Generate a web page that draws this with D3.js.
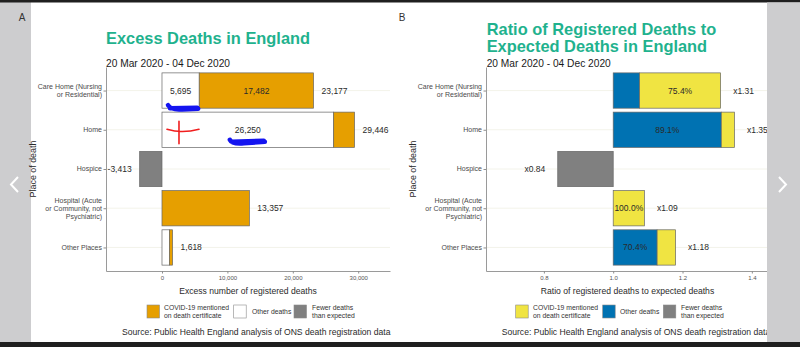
<!DOCTYPE html>
<html>
<head>
<meta charset="utf-8">
<script src="https://cdn.jsdelivr.net/npm/d3@7"></script>
<style>
  html, body { margin: 0; padding: 0; background: #fff; }
  svg { display: block; font-family: "Liberation Sans", Arial, Helvetica, sans-serif; }
</style>
</head>
<body>
<svg id="chart" width="800" height="347"></svg>
<script>
// ---- data: registered deaths vs expected, England, 20 Mar - 04 Dec 2020 ----
const places = ["Care Home", "Home", "Hospice", "Hospital", "Other Places"];
const placeLabels = [
  ["Care Home (Nursing", "or Residential)"],
  ["Home"],
  ["Hospice"],
  ["Hospital (Acute", "or Community, not", "Psychiatric)"],
  ["Other Places"]
];
const covidExcess = [17482, 3196, 0, 13357, 479];   // COVID-19 on certificate
const otherExcess = [5695, 26250, 0, 0, 1139];      // other excess deaths
const fewerDeaths = [0, 0, -3413, 0, 0];            // deficit vs expected
const totalExcess = [23177, 29446, -3413, 13357, 1618];
const deathRatio = [1.31, 1.35, 0.84, 1.09, 1.18];  // registered / expected
const covidSharePct = [75.4, 10.9, 0, 100.0, 29.6];
const otherSharePct = [24.6, 89.1, 0, 0.0, 70.4];
const excessTicks = [0, 10000, 20000, 30000];
const ratioTicks = [0.8, 1.0, 1.2, 1.4];

const fmt = d3.formatLocale({decimal: ".", thousands: ",", grouping: [3], currency: ["", ""], minus: "-"});
const fmtInt = fmt.format(",");

const C = {
  orange: "#E69F00", yellow: "#F0E442", blue: "#0072B2",
  white: "#FFFFFF", grey: "#808080", title: "#1FB28E",
  grid: "#f0f0e4", axis: "#8e8e8e", stroke: "#666666"
};

const svg = d3.select("#chart");
svg.append("rect").attr("width", 800).attr("height", 347).attr("fill", "#fff");

// ---------- surrounding viewer frame ----------
svg.append("rect").attr("x", 0).attr("y", 0).attr("width", 31).attr("height", 347).attr("fill", "#cdcdcf");
svg.append("rect").attr("x", 0).attr("y", 0).attr("width", 800).attr("height", 2.5).attr("fill", "#1f1f1f");
svg.append("rect").attr("x", 0).attr("y", 342).attr("width", 800).attr("height", 5).attr("fill", "#1f1f1f");
svg.append("path").attr("d", "M18,177 L11,184.5 L18,192").attr("fill", "none").attr("stroke", "#fff").attr("stroke-width", 2);
svg.append("text").attr("x", 22).attr("y", 21).attr("text-anchor", "middle").attr("font-size", 10).attr("fill", "#333").text("A");
svg.append("text").attr("x", 402).attr("y", 21).attr("text-anchor", "middle").attr("font-size", 10).attr("fill", "#333").text("B");

function drawPanel(o) {
  const g = svg.append("g");
  const x = d3.scaleLinear().domain(o.domain).range([o.left, o.right]);
  const y = d3.scalePoint().domain(places).range([67, 271]).padding(0.6);
  const bh = y.step() * 0.9;

  // title + subtitle
  o.title.forEach((t, i) => {
    g.append("text").attr("x", o.left + o.titleDx).attr("y", o.titleY + i * 17)
      .attr("font-size", 16.4).attr("font-weight", "bold").attr("fill", C.title).text(t);
  });
  g.append("text").attr("x", o.left + o.titleDx).attr("y", 66.5)
    .attr("font-size", 10.2).attr("fill", "#1a1a1a").text("20 Mar 2020 - 04 Dec 2020");

  // horizontal grid at each place
  g.selectAll("line.grid").data(places).join("line")
    .attr("x1", o.left).attr("x2", o.right)
    .attr("y1", d => y(d)).attr("y2", d => y(d))
    .attr("stroke", C.grid).attr("stroke-width", 0.8);

  // bars
  g.selectAll("rect.seg").data(o.segments).join("rect")
    .attr("x", d => x(Math.min(d.x0, d.x1)))
    .attr("width", d => Math.abs(x(d.x1) - x(d.x0)))
    .attr("y", d => y(d.place) - bh / 2).attr("height", bh)
    .attr("fill", d => d.fill).attr("stroke", C.stroke).attr("stroke-width", 0.7);

  // labels inside bars
  g.selectAll("text.inner").data(o.segments.filter(d => d.label)).join("text")
    .attr("x", d => (x(d.x0) + x(d.x1)) / 2).attr("y", d => y(d.place))
    .attr("dy", "0.35em").attr("text-anchor", "middle")
    .attr("font-size", 8.5).attr("fill", "#2a2a2a").text(d => d.label);

  // end labels
  g.selectAll("text.end").data(o.ends).join("text")
    .attr("x", d => d.v >= o.base ? x(d.v) + o.gap : x(d.v) - o.gap)
    .attr("y", d => y(d.place)).attr("dy", "0.35em")
    .attr("text-anchor", d => d.v >= o.base ? "start" : "end")
    .attr("font-size", 8.5).attr("fill", "#2a2a2a").text(d => d.label);

  // x axis
  const xa = g.append("g").attr("transform", "translate(0,271)")
    .call(d3.axisBottom(x).tickValues(o.ticks).tickFormat(o.tickFormat).tickSize(2.5).tickSizeOuter(0));
  xa.select(".domain").attr("stroke", C.axis).attr("stroke-width", 0.9);
  xa.selectAll(".tick line").attr("stroke", C.axis);
  xa.selectAll(".tick text").attr("font-size", 6).attr("fill", "#555").attr("font-family", null).attr("dy", null).attr("y", 8.5);

  // y axis
  const ya = g.append("g").attr("transform", `translate(${o.left},0)`)
    .call(d3.axisLeft(y).tickFormat("").tickSize(2.5).tickSizeOuter(0));
  ya.select(".domain").attr("stroke", C.axis).attr("stroke-width", 0.9);
  ya.selectAll(".tick line").attr("stroke", C.axis);
  places.forEach((p, i) => {
    const lines = placeLabels[i];
    const t = g.append("text").attr("text-anchor", "end").attr("font-size", 7).attr("fill", "#4a4a4a");
    lines.forEach((ln, k) => {
      t.append("tspan").attr("x", o.left - 4)
        .attr("y", y(p) + 2.4 + (k - (lines.length - 1) / 2) * 8).text(ln);
    });
  });

  // axis titles
  g.append("text").attr("x", (o.left + o.right) / 2).attr("y", 294)
    .attr("text-anchor", "middle").attr("font-size", 8.6).attr("fill", "#2a2a2a").text(o.xTitle);
  g.append("text").attr("transform", `translate(${o.left - 70.5},169) rotate(-90)`)
    .attr("text-anchor", "middle").attr("font-size", 8.9).attr("fill", "#2a2a2a").text("Place of death");

  // legend
  o.legend.forEach(item => {
    g.append("rect").attr("x", item.x).attr("y", 305).attr("width", 12.5).attr("height", 13)
      .attr("fill", item.fill).attr("stroke", "#8a8a8a").attr("stroke-width", 0.6);
    const t = g.append("text").attr("font-size", 6.8).attr("fill", "#333");
    item.text.forEach((ln, k) => {
      t.append("tspan").attr("x", item.x + item.dx)
        .attr("y", 314 + (k - (item.text.length - 1) / 2) * 7.8).text(ln);
    });
  });

  // source line
  g.append("text").attr("x", o.sourceX).attr("y", 335).attr("font-size", 8.6).attr("fill", "#2a2a2a")
    .text("Source: Public Health England analysis of ONS death registration data");

  return {x, y, bh};
}

const legendText = [["COVID-19 mentioned", "on death certificate"], ["Other deaths"], ["Fewer deaths", "than expected"]];

// ---------- Panel A: excess deaths ----------
const segA = [];
places.forEach((p, i) => {
  const both = otherExcess[i] > 0 && covidExcess[i] > 0;
  if (otherExcess[i]) segA.push({place: p, x0: 0, x1: otherExcess[i], fill: C.white,
    label: both && otherExcess[i] > 4000 ? fmtInt(otherExcess[i]) : null});
  if (covidExcess[i]) segA.push({place: p, x0: otherExcess[i], x1: otherExcess[i] + covidExcess[i], fill: C.orange,
    label: both && covidExcess[i] > 4000 ? fmtInt(covidExcess[i]) : null});
  if (fewerDeaths[i]) segA.push({place: p, x0: fewerDeaths[i], x1: 0, fill: C.grey, label: null});
});
const A = drawPanel({
  left: 106, right: 390, domain: [-8560, 34860], base: 0, gap: 8,
  title: ["Excess Deaths in England"], titleY: 43.5, titleDx: 0,
  segments: segA,
  ends: places.map((p, i) => ({place: p, v: totalExcess[i], label: fmtInt(totalExcess[i])})),
  ticks: excessTicks, tickFormat: fmtInt,
  xTitle: "Excess number of registered deaths",
  legend: [
    {x: 147, dx: 17, fill: C.orange, text: legendText[0]},
    {x: 233.7, dx: 18.3, fill: C.white, text: legendText[1]},
    {x: 294, dx: 18, fill: C.grey, text: legendText[2]}
  ],
  sourceX: 122
});

// ---------- Panel B: ratio to expected ----------
const segB = [];
places.forEach((p, i) => {
  const r = deathRatio[i];
  if (r >= 1) {
    const otherEnd = 1 + (r - 1) * otherSharePct[i] / 100;
    const big = otherSharePct[i] >= covidSharePct[i] ? "other" : "covid";
    if (otherSharePct[i] > 0) segB.push({place: p, x0: 1, x1: otherEnd, fill: C.blue,
      label: big === "other" ? d3.format(".1f")(otherSharePct[i]) + "%" : null});
    if (covidSharePct[i] > 0) segB.push({place: p, x0: otherEnd, x1: r, fill: C.yellow,
      label: big === "covid" ? d3.format(".1f")(covidSharePct[i]) + "%" : null});
  } else {
    segB.push({place: p, x0: r, x1: 1, fill: C.grey, label: null});
  }
});
const B = drawPanel({
  left: 486, right: 769, domain: [0.633, 1.4495], base: 1, gap: 12.5,
  title: ["Ratio of Registered Deaths to", "Expected Deaths in England"], titleY: 35, titleDx: 0.7,
  segments: segB,
  ends: places.map((p, i) => ({place: p, v: deathRatio[i], label: "x" + d3.format(".2f")(deathRatio[i])})),
  ticks: ratioTicks, tickFormat: d3.format(".1f"),
  xTitle: "Ratio of registered deaths to expected deaths",
  legend: [
    {x: 515.7, dx: 17.3, fill: C.yellow, text: legendText[0]},
    {x: 602.7, dx: 17.3, fill: C.blue, text: legendText[1]},
    {x: 663.3, dx: 17.7, fill: C.grey, text: legendText[2]}
  ],
  sourceX: 501.7
});

// ---------- hand-drawn marks over panel A ----------
(function () {
  const {x, y, bh} = A;
  const ch = y("Care Home") + bh / 2, hm = y("Home");
  const a0 = x(0), a1 = x(otherExcess[0]);
  const ink = svg.append("g").attr("fill", "none").attr("stroke-linecap", "round").attr("stroke-linejoin", "round");
  ink.append("path").attr("stroke", "#1414f0").attr("stroke-width", 4.5)
    .attr("d", `M${a0 + 6},${ch - 3} Q${a0 + 9},${ch + 2} ${a0 + 20},${ch + 1.2} L${a1 - 1},${ch + 0.5} M${a0 + 8},${ch} L${a1 - 2},${ch - 0.5}`);
  const u0 = x(otherExcess[1] / 2) - 20, u1 = x(otherExcess[1] / 2) + 17;
  ink.append("path").attr("stroke", "#1414f0").attr("stroke-width", 4.5)
    .attr("d", `M${u0 + 2},${hm + 10} Q${u0 + 4},${hm + 14.5} ${u0 + 16},${hm + 13.5} L${u1},${hm + 12} M${u0 + 4},${hm + 12} L${u1 - 1},${hm + 11}`);
  ink.append("path").attr("stroke", "#f01e1e").attr("stroke-width", 1.6)
    .attr("d", `M${a0 + 17},${hm - 8.5} L${a0 + 17},${hm + 14} M${a0 + 5},${hm - 0.5} Q${a0 + 20},${hm + 4} ${a0 + 37},${hm - 0.5}`);
})();

// right-hand viewer strip sits over the edge of panel B
svg.append("rect").attr("x", 767).attr("y", 2.5).attr("width", 33).attr("height", 339.5).attr("fill", "#cdcdcf");
svg.append("path").attr("d", "M779,177 L786,184.5 L779,192").attr("fill", "none").attr("stroke", "#fff").attr("stroke-width", 2);
</script>
</body>
</html>
